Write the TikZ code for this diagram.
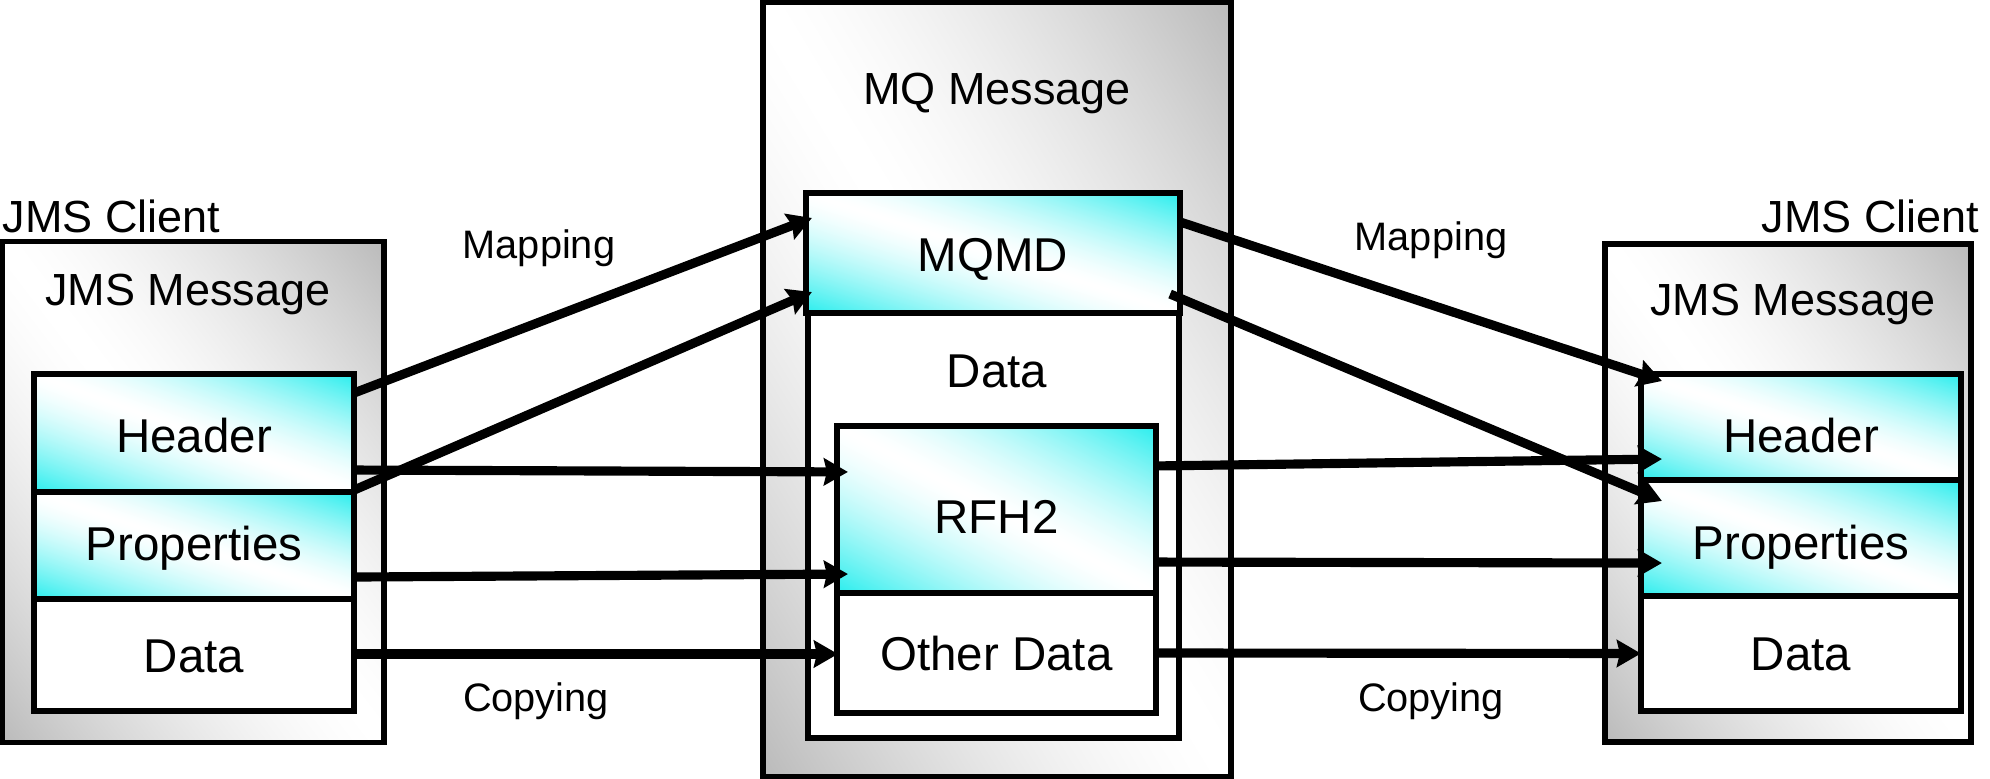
\documentclass[tikz,border=0pt]{standalone}
\usepackage{fontspec}
\setmainfont{Liberation Sans}
\usetikzlibrary{calc,arrows.meta}
\pgfdeclarefunctionalshading{graydiag}{\pgfpoint{0bp}{0bp}}{\pgfpoint{100bp}{100bp}}{}{
	add 100 sub abs 50 div dup 1 gt {pop 1} if dup sqrt mul
	0.27 mul 1 exch sub dup dup
}
\pgfdeclarefunctionalshading{cyandiag}{\pgfpoint{0bp}{0bp}}{\pgfpoint{100bp}{100bp}}{}{
	add 100 sub abs 50 div dup 1 gt {pop 1} if dup sqrt mul
	dup 0.84 mul 1 exch sub exch 0.07 mul 1 exch sub dup
}

\begin{document}
\begin{tikzpicture}[x=0.01cm, y=-0.01cm,
	outerbox/.style={draw, line width=1.6pt, shade, shading=graydiag, inner sep=0pt, outer sep=0pt},
	partbox/.style={draw, line width=1.6pt, shade, shading=cyandiag, inner sep=0pt, outer sep=0pt, text depth=0pt, text height=#1, font=\fontsize{13.5}{16}\selectfont},
	partbox/.default=9.7pt,
	plainbox/.style={draw, line width=1.6pt, fill=white, inner sep=0pt, outer sep=0pt, text depth=0pt, text height=9.7pt, font=\fontsize{13.5}{16}\selectfont},
	heading/.style={inner sep=0pt, font=\fontsize{12.8}{15}\selectfont},
	tag/.style={inner sep=0pt, font=\fontsize{11.3}{13}\selectfont},
	map/.style={line width=2.6pt, -{Stealth[length=0.24cm, width=0.27cm, inset=0.03cm]}}]
			%%%%% START %%%%%
			\useasboundingbox (0, 0) rectangle (1990, 779);
			
			% left client
			\node[outerbox, minimum width=3.815cm, minimum height=5.01cm] (lclient) at (193.25, 492) {};
			\node[heading, anchor=west] (lclienttitle) at (2, 216) {JMS Client};
			\node[heading] (lmsgtitle) at (188, 294) {JMS Message};
			\node[partbox=10.9pt, minimum width=3.2cm, minimum height=1.18cm] (lhead) at (194, 433) {Header};
			\node[partbox=8.3pt, minimum width=3.2cm, minimum height=1.07cm] (lprop) at (194, 545.5) {Properties};
			\node[plainbox, minimum width=3.2cm, minimum height=1.12cm] (ldata) at (194, 655) {Data};
			
			% MQ message
			\node[outerbox, minimum width=4.68cm, minimum height=7.75cm] (mq) at (997, 389.5) {};
			\node[heading] (mqtitle) at (997, 93) {MQ Message};
			\node[plainbox, minimum width=3.71cm, minimum height=4.25cm] (mqdata) at (993.5, 525.5) {};
			\node[inner sep=0pt, font=\fontsize{13.5}{16}\selectfont] (mqdatatitle) at (997, 371) {Data};
			\node[partbox=10.3pt, minimum width=3.74cm, minimum height=1.2cm] (mqmd) at (993, 253) {MQMD};
			\node[partbox=13.7pt, minimum width=3.19cm, minimum height=1.67cm] (rfh) at (996.5, 509.5) {RFH2};
			\node[plainbox, minimum width=3.19cm, minimum height=1.2cm] (odata) at (996.5, 653) {Other Data};
			
			% right client
			\node[outerbox, minimum width=3.66cm, minimum height=4.98cm] (rclient) at (1788, 493) {};
			\node[heading, anchor=east] (rclienttitle) at (1980, 216) {JMS Client};
			\node[heading] (rmsgtitle) at (1793, 304) {JMS Message};
			\node[partbox=14.3pt, minimum width=3.2cm, minimum height=1.06cm] (rhead) at (1801, 427) {Header};
			\node[partbox=12.5pt, minimum width=3.2cm, minimum height=1.16cm] (rprop) at (1801, 538) {Properties};
			\node[plainbox, minimum width=3.2cm, minimum height=1.15cm] (rdata) at (1801, 653.5) {Data};
			
			% labels
			\node[tag] (lmap) at (539, 248) {Mapping};
			\node[tag] (lcopy) at (536, 701) {Copying};
			\node[tag] (rmap) at (1431, 240) {Mapping};
			\node[tag] (rcopy) at (1431, 701) {Copying};
			
			% left arrows
			\draw[map] ($(lhead.north east)+(0,19)$) -- ($(mqmd.north west)+(6,25)$);
			\draw[map] ($(lhead.south east)+(0,-2)$) -- ($(mqmd.south west)+(6,-21)$);
			\draw[map] ($(lhead.south east)+(0,-22)$) -- ($(rfh.north west)+(11,46)$);
			\draw[map] ($(lprop.south east)+(0,-22)$) -- ($(rfh.south west)+(11,-19)$);
			\draw[map] ($(ldata.east)+(0,-1)$) -- ($(odata.west)+(1,1)$);
			
			% right arrows
			\draw[map] ($(mqmd.north east)+(0,29)$) -- ($(rhead.north west)+(21,7)$);
			\draw[map] ($(mqmd.south east)+(-10,-19)$) -- ($(rprop.north west)+(21,21)$);
			\draw[map] ($(rfh.north east)+(0,40)$) -- ($(rhead.south west)+(21,-21)$);
			\draw[map] ($(rfh.south east)+(0,-31)$) -- ($(rprop.south west)+(21,-33)$);
			\draw[map] (odata.east) -- (rdata.west);
			
			%%%%% END %%%%%
		\end{tikzpicture}
\end{document}
